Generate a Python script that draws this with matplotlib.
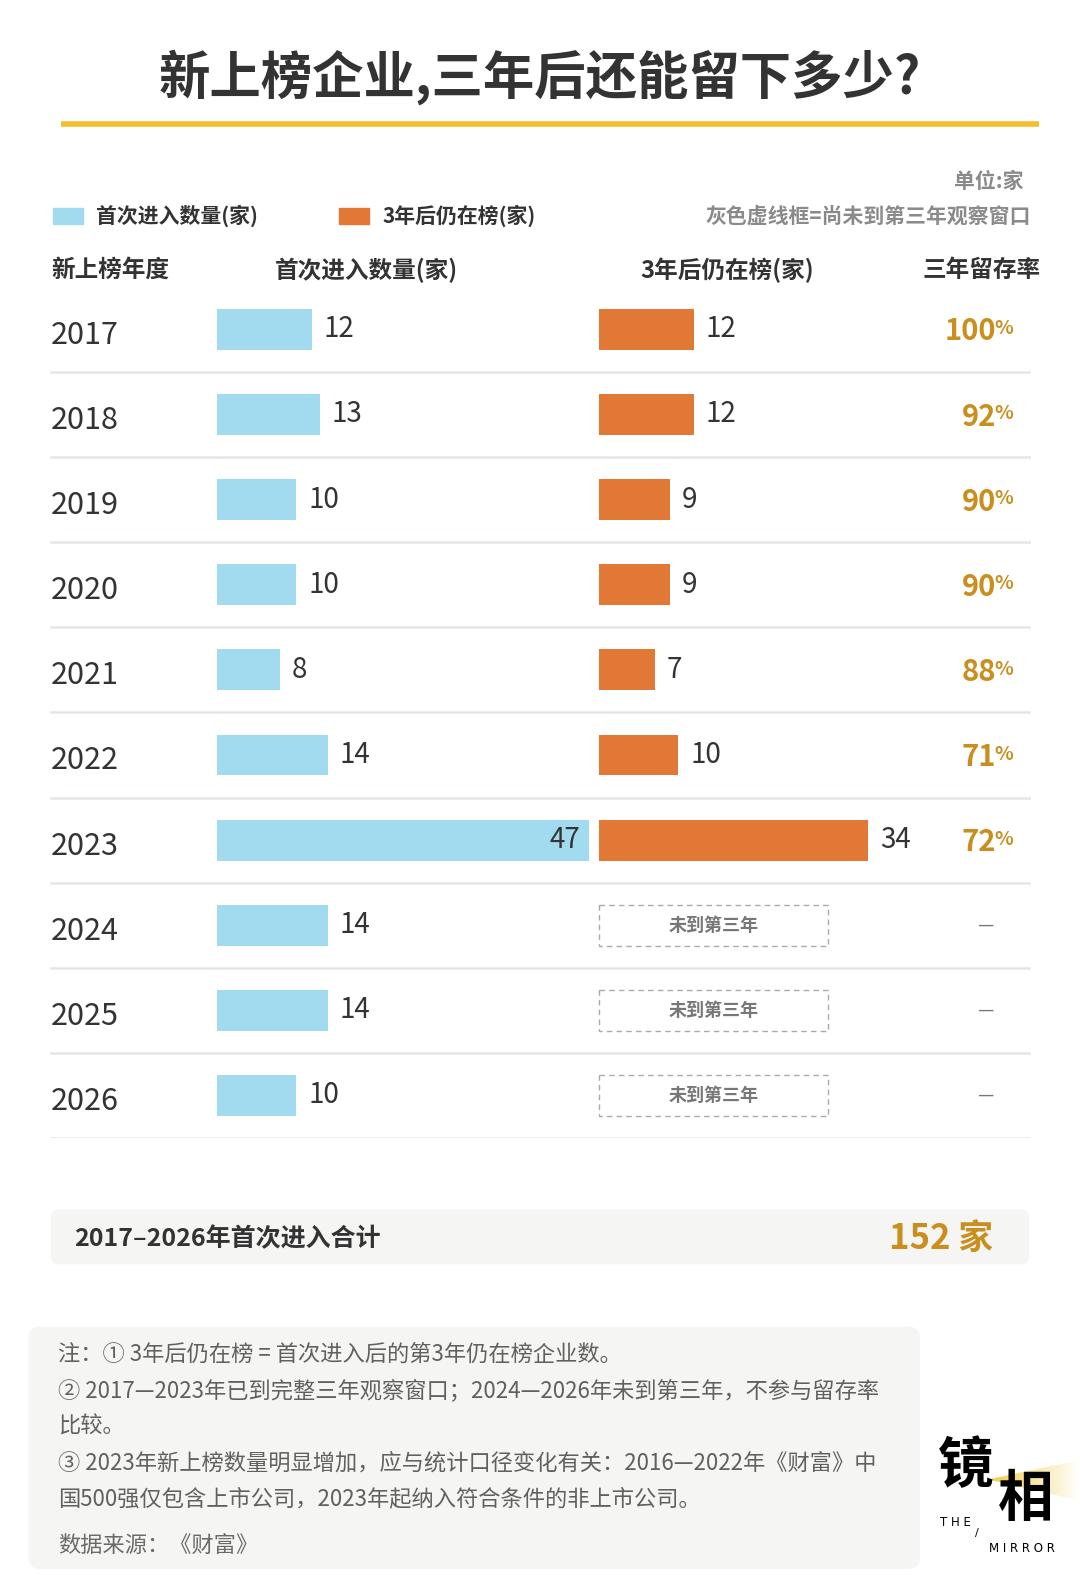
import numpy as np
import matplotlib
matplotlib.use("Agg")
import matplotlib.pyplot as plt
from matplotlib.patches import FancyBboxPatch, Rectangle, Polygon
from matplotlib.colors import LinearSegmentedColormap

plt.rcParams['font.family'] = ['Noto Sans CJK SC', 'DejaVu Sans']

# 数据
years = ['2017', '2018', '2019', '2020', '2021', '2022', '2023', '2024', '2025', '2026']
first_in = [12, 13, 10, 10, 8, 14, 47, 14, 14, 10]
still_on = [12, 12, 9, 9, 7, 10, 34, None, None, None]
retention = ['100', '92', '90', '90', '88', '71', '72', None, None, None]

notes = [
    '注：① 3年后仍在榜 = 首次进入后的第3年仍在榜企业数。',
    '② 2017—2023年已到完整三年观察窗口；2024—2026年未到第三年，不参与留存率',
    '比较。',
    '③ 2023年新上榜数量明显增加，应与统计口径变化有关：2016—2022年《财富》中',
    '国500强仅包含上市公司，2023年起纳入符合条件的非上市公司。',
]
source = '数据来源：《财富》'

# 颜色
BLUE = '#A2DAF0'
ORANGE = '#E27836'
GOLD = '#C98E1E'
DARK = '#333333'
GRAY = '#8A8A8A'
LINE = '#E6E6E1'
BOXBG = '#F5F5F3'

W, H = 1060, 1564.5  # 画布坐标(按像素)
fig = plt.figure(figsize=(10.8, 15.94), dpi=100)
fig.patch.set_facecolor('white')

ax = fig.add_axes([0, 0, 1, 1])
ax.set_xlim(0, W)
ax.set_ylim(H, 0)
ax.axis('off')


def rect(x, y, w, h):
    return [x / W, 1 - (y + h) / H, w / W, h / H]


# 标题
ax.text(530, 76, '新上榜企业,三年后还能留下多少?', ha='center', va='center',
        fontsize=37, fontweight='bold', color=DARK)
ax.plot([60, 1020], [122, 122], color='#F5BC30', lw=4, solid_capstyle='butt')

# 单位和图例
ax.text(1005, 178, '单位:家', ha='right', va='center', fontsize=15,
        fontweight='bold', color=GRAY)
ax.add_patch(Rectangle((52, 204), 29, 16, color=BLUE))
ax.text(94, 212, '首次进入数量(家)', ha='left', va='center', fontsize=15,
        fontweight='bold', color=DARK)
ax.add_patch(Rectangle((333, 204), 29, 16, color=ORANGE))
ax.text(375, 212, '3年后仍在榜(家)', ha='left', va='center', fontsize=15,
        fontweight='bold', color=DARK)
ax.text(1012, 212, '灰色虚线框=尚未到第三年观察窗口', ha='right', va='center',
        fontsize=15, fontweight='bold', color=GRAY)

# 表头
ax.text(50, 265, '新上榜年度', ha='left', va='center', fontsize=17,
        fontweight='bold', color=DARK)
ax.text(270, 265, '首次进入数量(家)', ha='left', va='center', fontsize=17,
        fontweight='bold', color=DARK)
ax.text(628, 265, '3年后仍在榜(家)', ha='left', va='center', fontsize=17,
        fontweight='bold', color=DARK)
ax.text(905, 265, '三年留存率', ha='left', va='center', fontsize=17,
        fontweight='bold', color=DARK)

# 行区域
top, row_h = 281.5, 83.55
n = len(years)
ax_t = fig.add_axes(rect(0, top, W, row_h * n))
ax_t.set_xlim(0, W)
ax_t.set_ylim(n - 0.5, -0.5)
ax_t.axis('off')

scale = 7.77  # 每家对应的像素宽度
span = 50
ax_b = fig.add_axes(rect(213, top, span * scale, row_h * n))
ax_o = fig.add_axes(rect(588, top, span * scale, row_h * n))
for a in (ax_b, ax_o):
    a.set_xlim(0, span)
    a.set_ylim(n - 0.5, -0.5)
    a.axis('off')

ypos = np.arange(n)
ax_b.barh(ypos, first_in, height=0.48, color=BLUE)
for i, v in enumerate(first_in):
    if v > 40:
        ax_b.text(v - 1.1, i, str(v), ha='right', va='center', fontsize=20, color=DARK)
    else:
        ax_b.text(v + 1.5, i, str(v), ha='left', va='center', fontsize=20, color=DARK)

done = [i for i, v in enumerate(still_on) if v is not None]
ax_o.barh([ypos[i] for i in done], [still_on[i] for i in done], height=0.48, color=ORANGE)
for i in done:
    ax_o.text(still_on[i] + 1.5, i, str(still_on[i]), ha='left', va='center',
              fontsize=20, color=DARK)

for i in range(n):
    ax_t.text(50, i + 0.07, years[i], ha='left', va='center', fontsize=22, color=DARK)
    ax_t.plot([50, 1010], [i + 0.5, i + 0.5], color=LINE, lw=1.8)
    if still_on[i] is None:
        ax_t.add_patch(Rectangle((588, i - 0.24), 225, 0.48, fill=False,
                                 edgecolor='#AAAAAA', lw=1, ls=(0, (4, 3))))
        ax_t.text(700, i, '未到第三年', ha='center', va='center', fontsize=13,
                  fontweight='bold', color='#777777')
        ax_t.text(967, i, '—', ha='center', va='center', fontsize=13, color='#777777')
    else:
        ax_t.text(978, i + 0.13, retention[i], ha='right', va='baseline', fontsize=21,
                  fontweight='bold', color=GOLD)
        ax_t.text(976, i + 0.055, '%', ha='left', va='baseline', fontsize=14,
                  fontweight='bold', color=GOLD)

# 合计
ax.add_patch(FancyBboxPatch((50, 1187), 960, 54, boxstyle='round,pad=0,rounding_size=8',
                            facecolor=BOXBG, edgecolor='none'))
ax.text(73, 1216, f'{years[0]}–{years[-1]}年首次进入合计', ha='left', va='center',
        fontsize=18, fontweight='bold', color=DARK)
ax.text(975, 1216, f'{sum(first_in)} 家', ha='right', va='center', fontsize=25,
        fontweight='bold', color=GOLD)

# 注释
ax.add_patch(FancyBboxPatch((28, 1302), 875, 238, boxstyle='round,pad=0,rounding_size=12',
                            facecolor=BOXBG, edgecolor='none'))
note_y = [1329, 1365, 1400, 1436, 1471]
for t, y in zip(notes, note_y):
    ax.text(57, y, t, ha='left', va='center', fontsize=16, color='#606060')
ax.text(57, 1517, source, ha='left', va='center', fontsize=16, color='#6A6A6A')

# 标志
beam = Polygon([(970, 1452), (1060, 1433), (1060, 1473)], closed=True,
               facecolor='none', edgecolor='none')
ax.add_patch(beam)
grad = np.linspace(0, 1, 100).reshape(1, -1)
cmap = LinearSegmentedColormap.from_list('beam', ['#F3CC4A', '#FFFFFF'])
im = ax.imshow(grad, extent=[970, 1060, 1473, 1433], cmap=cmap,
               aspect='auto', zorder=1)
im.set_clip_path(beam)
ax.set_xlim(0, W)
ax.set_ylim(H, 0)
ax.text(920, 1440, '镜', ha='left', va='center', fontsize=40, fontweight='bold',
        color='black', zorder=2)
ax.text(979, 1472, '相', ha='left', va='center', fontsize=40, fontweight='bold',
        color='black', zorder=2)
ax.text(923, 1494, 'T H E', ha='left', va='center', fontsize=8.5, color='black',
        family='DejaVu Sans')
ax.text(957, 1505, '/', ha='left', va='center', fontsize=8, color='black',
        family='DejaVu Sans')
ax.text(971, 1520, 'M I R R O R', ha='left', va='center', fontsize=8.5, color='black',
        family='DejaVu Sans')

fig.savefig('out.png', dpi=100, facecolor='white')
